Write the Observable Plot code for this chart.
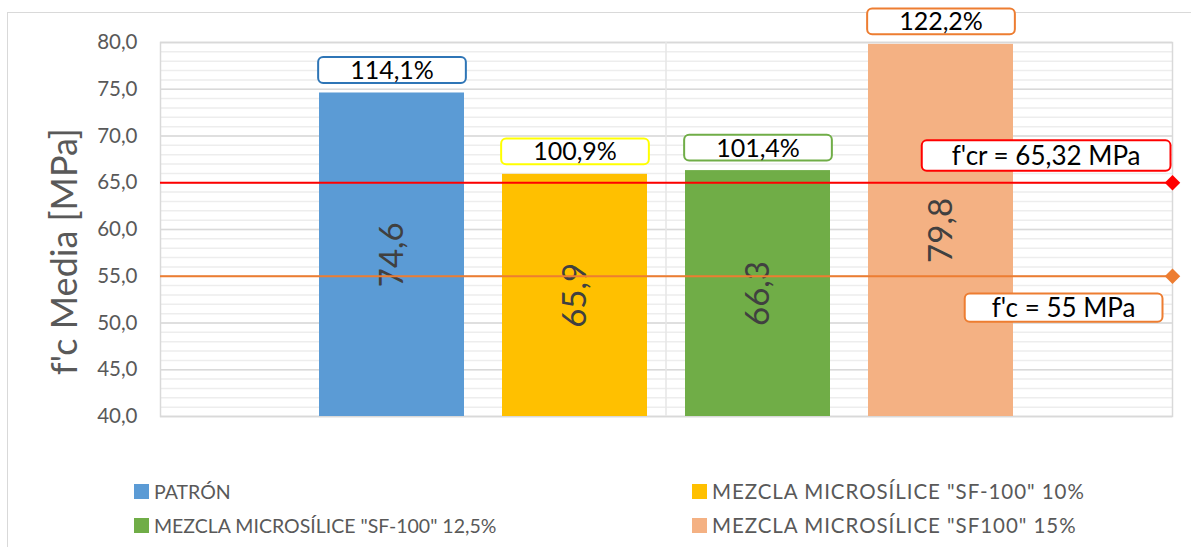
<!DOCTYPE html>
<html><head><meta charset="utf-8">
<script src="https://cdn.jsdelivr.net/npm/d3@7"></script>
<script src="https://cdn.jsdelivr.net/npm/@observablehq/plot@0.6"></script>
<style>
body{margin:0;background:#fff;width:1191px;height:547px;overflow:hidden;position:relative;font-family:Lato,"Open Sans",sans-serif;}
#frame{position:absolute;left:7px;top:12px;width:1300px;height:700px;border:1px solid #D9D9D9;box-sizing:border-box;}
#chart{position:absolute;left:0;top:0;}
#legend{position:absolute;left:134px;top:474px;display:grid;grid-template-columns:558px auto;}
.item{display:flex;align-items:center;height:34px;font-size:19.5px;color:#595959;white-space:nowrap;}
.item.c2{font-size:20.5px;letter-spacing:0.95px;}
.sw{width:15px;height:15px;margin-right:5px;flex:none;}
</style></head>
<body>
<div id="frame"></div>
<div id="chart"></div>
<div id="legend"></div>
<script>
const categories = ["PATRÓN", 'MEZCLA MICROSÍLICE "SF-100" 10%', 'MEZCLA MICROSÍLICE "SF-100" 12,5%', 'MEZCLA MICROSÍLICE "SF100" 15%'];
const strengths = [74.6, 65.9, 66.3, 79.8];
const percentLabels = ["114,1%", "100,9%", "101,4%", "122,2%"];
const refValues = [65.0, 55.0];
const refLabels = ["f'cr = 65,32 MPa", "f'c = 55 MPa"];
const yTicks = [40, 45, 50, 55, 60, 65, 70, 75, 80];
const minorTicks = d3.range(40, 81, 1);
const barColors = ["#5B9BD5", "#FFC000", "#70AD47", "#F4B183"];
const pctBoxColors = ["#2E75B6", "#FFFF00", "#70AD47", "#ED7D31"];
const refColors = ["#FF0000", "#ED7D31"];

const rows = categories.map((c, i) => ({category: c, value: strengths[i], pct: percentLabels[i]}));
const refs = refValues.map((v, i) => ({value: v, label: refLabels[i]}));
const yMin = yTicks[0], yMax = yTicks[yTicks.length - 1];
const fmt = d => d.toFixed(1).replace(".", ",");

const chart = Plot.plot({
  width: 1191, height: 446,
  marginLeft: 160, marginRight: 19, marginTop: 42, marginBottom: 30,
  style: {fontFamily: "Lato, 'Open Sans', sans-serif", background: "transparent", color: "#595959"},
  x: {domain: categories, paddingInner: 0.21, paddingOuter: 0.86, axis: null},
  y: {domain: [yMin, yMax], axis: null},
  color: {domain: categories, range: barColors},
  marks: [
    Plot.ruleY(minorTicks, {stroke: "#EDEDED", strokeWidth: 1.5}),
    Plot.ruleY(yTicks, {stroke: "#D9D9D9", strokeWidth: 1.5}),
    Plot.frame({stroke: "#D9D9D9", strokeWidth: 1.5}),
    Plot.axisY(yTicks, {tickSize: 0, tickPadding: 23, fontSize: 20.5, tickFormat: fmt, label: null}),
    Plot.text(["f'c Media [MPa]"], {frameAnchor: "left", textAnchor: "middle", rotate: -90, dx: -95, dy: 22, fontSize: 36, fill: "#595959"}),
    Plot.barY(rows, {x: "category", y1: yMin, y2: "value", fill: "category", ariaDescription: "bars"}),
    Plot.text(rows, {x: "category", y: d => (yMin + d.value) / 2, text: d => fmt(d.value), rotate: -90, fontSize: 33, fill: "#404040"}),
    Plot.ruleY([refs[0]], {y: "value", stroke: refColors[0], strokeWidth: 2.2}),
    Plot.ruleY([refs[1]], {y: "value", stroke: refColors[1], strokeWidth: 2.2}),
    Plot.dot([refs[0]], {y: "value", frameAnchor: "right", symbol: "diamond2", r: 7, fill: refColors[0]}),
    Plot.dot([refs[1]], {y: "value", frameAnchor: "right", symbol: "diamond2", r: 7, fill: refColors[1]}),
    Plot.text(rows, {x: "category", y: "value", text: "pct", dy: -22, fontSize: 25, fill: "#000", ariaDescription: "pct-label"}),
    Plot.text([refs[0]], {y: "value", text: "label", frameAnchor: "right", textAnchor: "end", dx: -32, dy: -26.5, fontSize: 26, fill: "#000", ariaDescription: "ref0-label"}),
    Plot.text([refs[1]], {y: "value", text: "label", frameAnchor: "right", textAnchor: "end", dx: -37, dy: 32, fontSize: 26, fill: "#000", ariaDescription: "ref1-label"})
  ]
});
document.getElementById("chart").appendChild(chart);

const svgNS = "http://www.w3.org/2000/svg";
function findGroup(desc) {
  return chart.querySelector(`g[aria-description="${desc}"]`);
}
function boxAround(desc, colors, pad, hf) {
  const g = findGroup(desc);
  if (!g) return;
  [...g.querySelectorAll("text")].forEach((t, i) => {
    const b = t.getBBox();
    const h = b.height * hf;
    const cy = b.y + b.height / 2;
    const r = document.createElementNS(svgNS, "rect");
    r.setAttribute("x", b.x - pad);
    r.setAttribute("y", cy - h / 2 + 1);
    r.setAttribute("width", b.width + 2 * pad);
    r.setAttribute("height", h);
    r.setAttribute("rx", 5);
    r.setAttribute("fill", "#fff");
    r.setAttribute("stroke", colors[i % colors.length]);
    r.setAttribute("stroke-width", 2);
    const tr = t.getAttribute("transform");
    if (tr) r.setAttribute("transform", tr);
    t.parentNode.insertBefore(r, t);
  });
}
boxAround("pct-label", pctBoxColors, 32, 0.86);
boxAround("ref0-label", [refColors[0]], 30, 0.95);
boxAround("ref1-label", [refColors[1]], 27, 0.88);

// middle vertical gridline between 2nd and 3rd category
const barsG = findGroup("bars");
if (barsG) {
  const xs = chart.scale("x");
  const ys = chart.scale("y");
  const x2 = xs.apply(categories[1]) + xs.bandwidth;
  const x3 = xs.apply(categories[2]);
  const mid = (x2 + x3) / 2;
  const line = document.createElementNS(svgNS, "line");
  line.setAttribute("x1", mid); line.setAttribute("x2", mid);
  line.setAttribute("y1", ys.apply(yMax)); line.setAttribute("y2", ys.apply(yMin));
  line.setAttribute("stroke", "#E6E6E6"); line.setAttribute("stroke-width", 1.5);
  barsG.parentNode.insertBefore(line, barsG);
}

const legend = document.getElementById("legend");
categories.forEach((c, i) => {
  const it = document.createElement("div");
  it.className = "item" + (i % 2 ? " c2" : "");
  const sw = document.createElement("span");
  sw.className = "sw"; sw.style.background = barColors[i];
  const tx = document.createElement("span");
  tx.textContent = c;
  it.appendChild(sw); it.appendChild(tx);
  legend.appendChild(it);
});
</script>
</body></html>
